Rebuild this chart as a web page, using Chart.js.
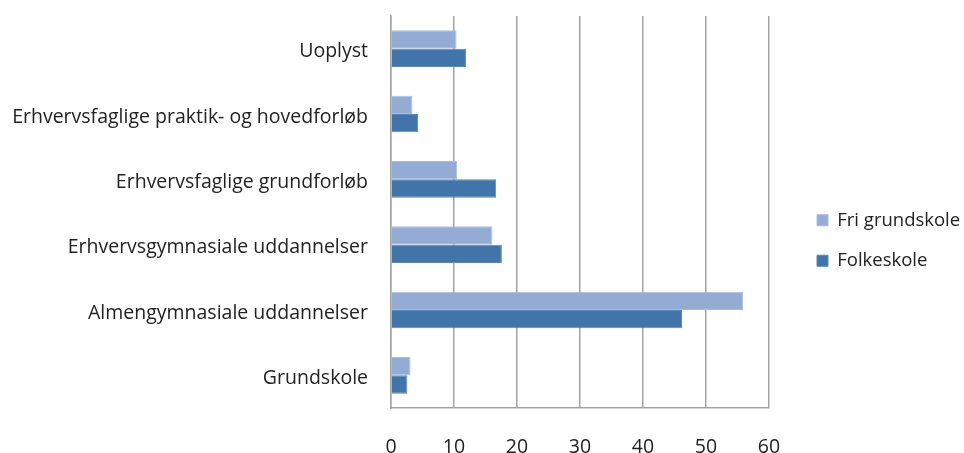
<!DOCTYPE html>
<html>
<head>
<meta charset="utf-8">
<script src="https://cdn.jsdelivr.net/npm/chart.js@4"></script>
<style>
  html, body { margin:0; padding:0; background:#fff; }
  #wrap { width:964px; height:453px; position:relative; }
</style>
</head>
<body>
<div id="wrap"><canvas id="c"></canvas></div>
<script>
// Data
const categories = [
  "Uoplyst",
  "Erhvervsfaglige praktik- og hovedforløb",
  "Erhvervsfaglige grundforløb",
  "Erhvervsgymnasiale uddannelser",
  "Almengymnasiale uddannelser",
  "Grundskole"
];
const friGrundskole = [10.4, 3.4, 10.5, 16.1, 55.9, 3.1];
const folkeskole    = [11.9, 4.3, 16.7, 17.6, 46.2, 2.6];
const seriesNames = ["Fri grundskole", "Folkeskole"];
const xTicks = [0, 10, 20, 30, 40, 50, 60];

const FONT = "'Open Sans', sans-serif";
const gridCol = "#a3a3a3";

// legend gets a fixed-width column on the right, items start at x=817
const legendFix = {
  id: "legendFix",
  beforeLayout(chart){
    const l = chart.legend;
    if(l && !l._fixed){
      const fit = l.fit;
      l.fit = function(){ fit.call(this); this.width = 195; };
      l._fixed = true;
    }
  },
  afterLayout(chart){
    const l = chart.legend;
    if(!l) return;
    const dx = 795 - l.left;
    l.left += dx; l.right += dx;
    l.top += 6; l.bottom += 6;
  }
};

new Chart(document.getElementById("c"), {
  type: "bar",
  data: {
    labels: categories,
    datasets: [
      { label: seriesNames[0], data: friGrundskole, backgroundColor: "#94abd3",
        borderColor: "#a9bde0", borderWidth: 1, categoryPercentage: 0.56, barPercentage: 1 },
      { label: seriesNames[1], data: folkeskole, backgroundColor: "#4174a9",
        borderColor: "#5a87b8", borderWidth: 1, categoryPercentage: 0.56, barPercentage: 1 }
    ]
  },
  plugins: [legendFix],
  options: {
    indexAxis: "y",
    responsive: true,
    maintainAspectRatio: false,
    animation: false,
    layout: { padding: { top: 16, right: 0, left: 0, bottom: 0 } },
    plugins: {
      tooltip: { enabled: false },
      legend: {
        position: "right",
        align: "center",
        labels: {
          font: { family: FONT, size: 18.5 },
          color: "#222",
          boxWidth: 11, boxHeight: 11,
          padding: 22,
          useBorderRadius: false
        }
      }
    },
    scales: {
      x: {
        min: 0, max: 60,
        afterBuildTicks: s => { s.ticks = xTicks.map(v => ({ value: v })); },
        afterFit: s => { s.height = 45; },
        grid: { color: gridCol, lineWidth: 1.5, drawTicks: false },
        border: { display: true, color: gridCol, width: 1.5 },
        ticks: { font: { family: FONT, size: 19.5 }, color: "#222", padding: 28 }
      },
      y: {
        afterFit: s => { s.width = 391; s.paddingTop = 0; s.paddingBottom = 0; },
        grid: { display: false, drawTicks: false },
        border: { display: true, color: gridCol, width: 1.5 },
        ticks: { font: { family: FONT, size: 19.5 }, color: "#222", padding: 23, labelOffset: 3 }
      }
    }
  }
});
</script>
</body>
</html>
